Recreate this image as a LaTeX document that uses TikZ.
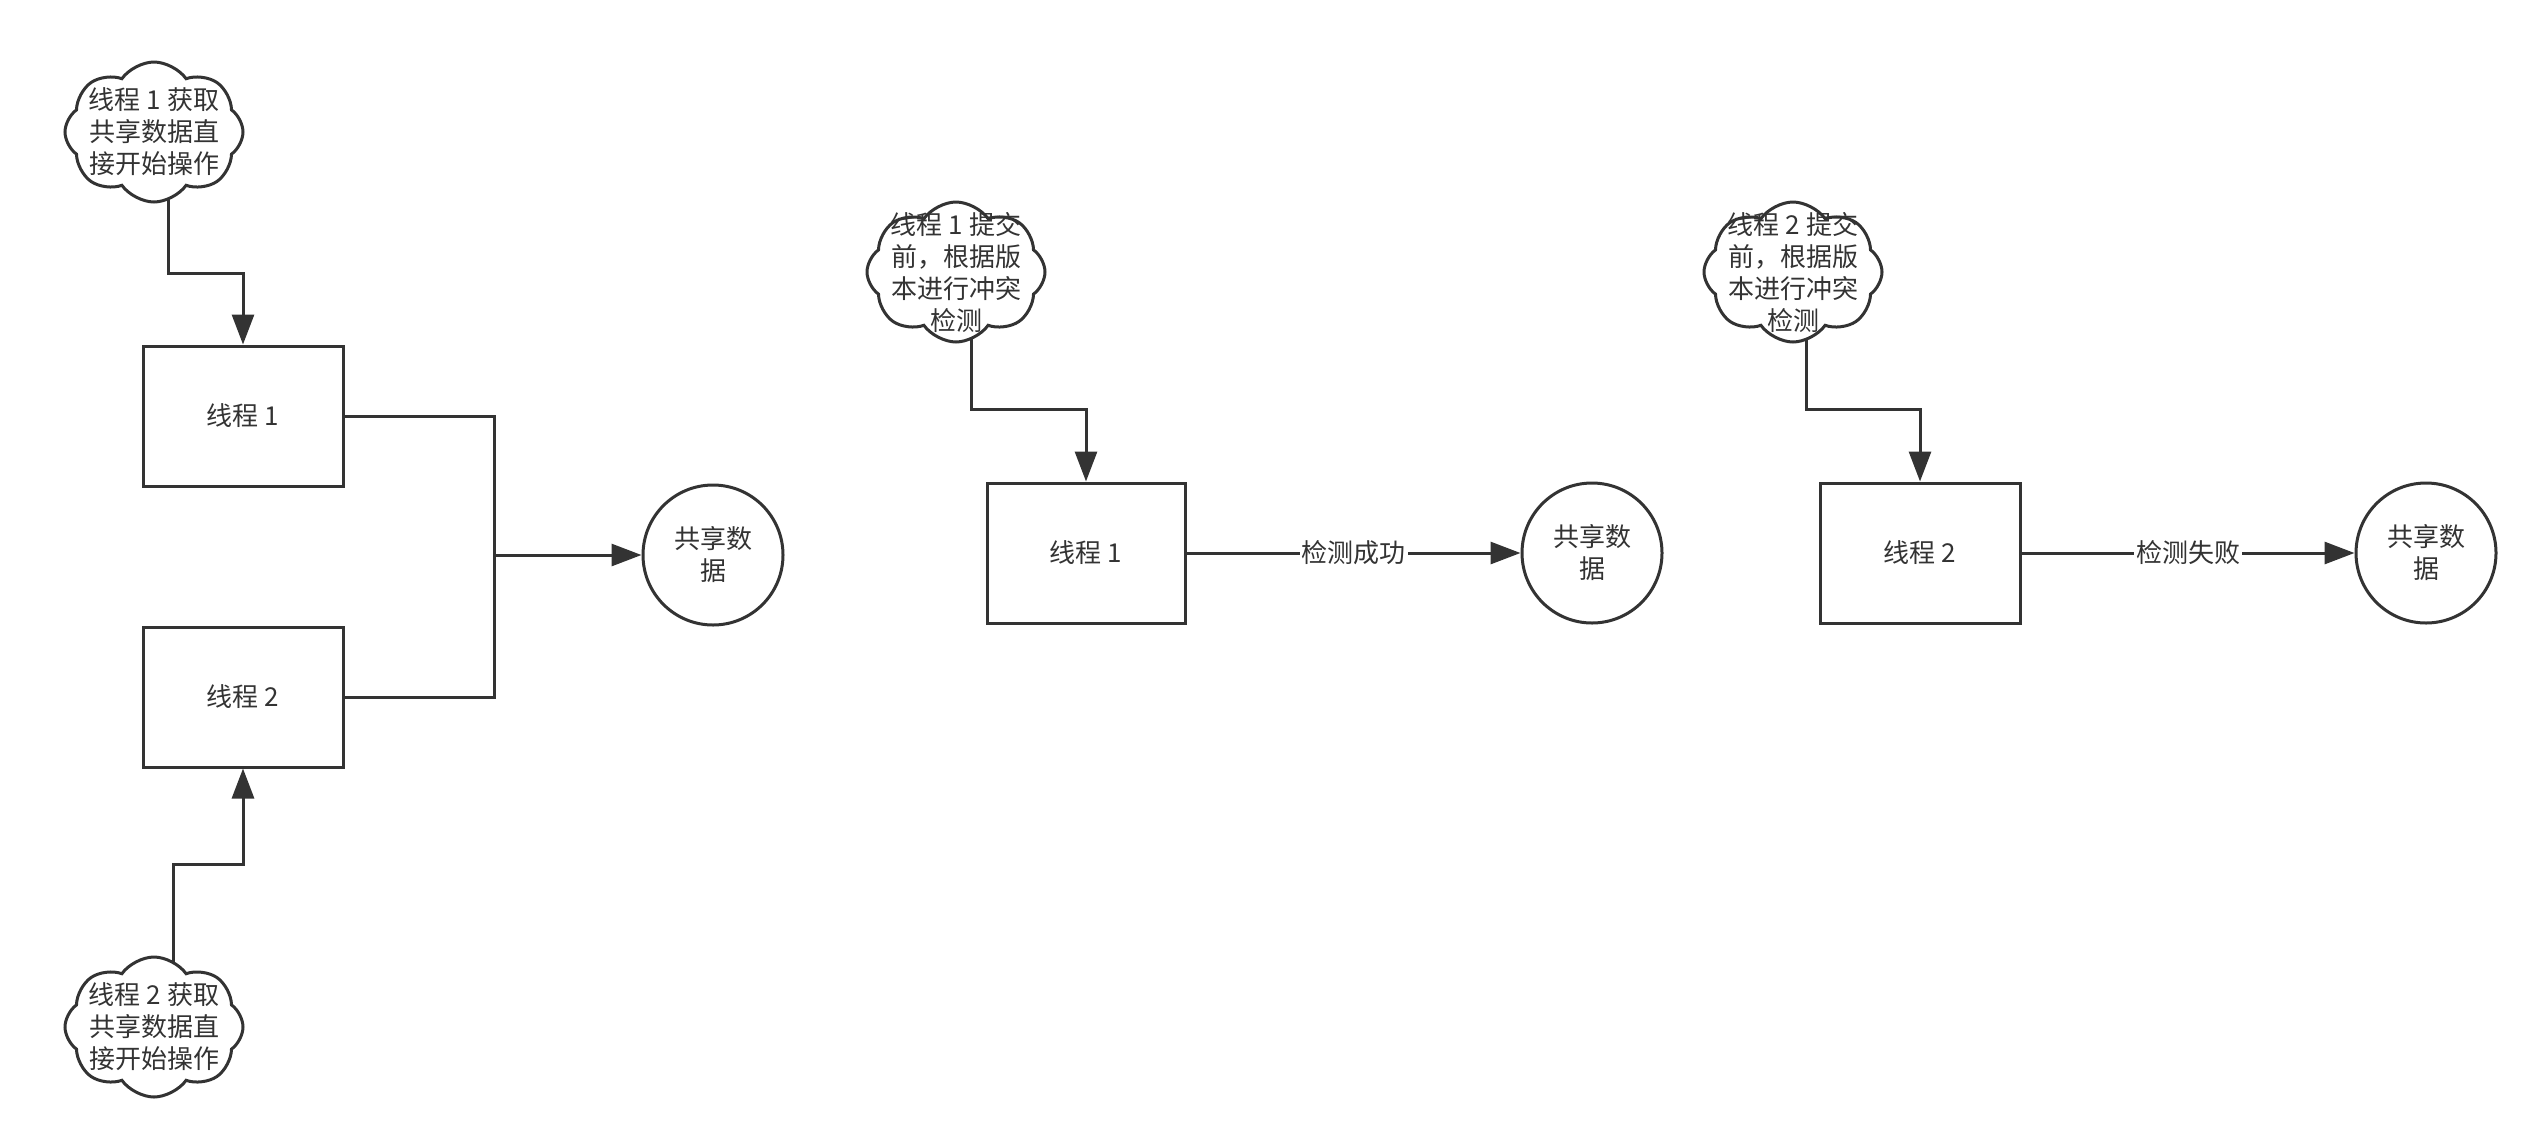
\documentclass[tikz,border=0pt]{standalone}
\usepackage{fontspec}
\setmainfont{Noto Sans CJK SC}
\usetikzlibrary{shapes.symbols,shapes.geometric,arrows.meta,calc,backgrounds}
\definecolor{ln}{HTML}{333333}
\definecolor{tx}{HTML}{333333}
\tikzset{
  boxnode/.style={draw=ln,line width=1.5pt,fill=white,rectangle,minimum width=100pt,minimum height=70pt,inner sep=0pt,text=tx,font=\fontsize{13pt}{16pt}\selectfont},
  datanode/.style={draw=ln,line width=1.5pt,fill=white,circle,minimum size=70pt,inner sep=0pt,text=tx,align=center,font=\fontsize{13pt}{16pt}\selectfont},
  cloudnode/.style={draw=ln,line width=1.5pt,fill=white,cloud,cloud puffs=8,cloud puff arc=110,cloud ignores aspect,minimum width=89pt,minimum height=70pt,inner sep=0pt},
  cloudtext/.style={text=tx,align=center,inner sep=0pt,font=\fontsize{13pt}{16pt}\selectfont},
  conn/.style={draw=ln,line width=1.5pt},
  arr/.style={conn,-{Triangle[length=15pt,width=11pt]}},
  lbl/.style={fill=white,text=tx,inner sep=1pt,font=\fontsize{13pt}{16pt}\selectfont}
}
\begin{document}
\begin{tikzpicture}[x=0.5pt,y=-0.5pt]
\useasboundingbox (0,0) rectangle (2548,1136);
% left group
\node[cloudnode,label={[cloudtext]center:{线程 1 获取\\共享数据直\\接开始操作}}] (c1) at (154,132) {};
\node[boxnode] (t1) at (243,416) {线程 1};
\node[boxnode] (t2) at (243,697) {线程 2};
\node[cloudnode,label={[cloudtext]center:{线程 2 获取\\共享数据直\\接开始操作}}] (c2) at (154,1027) {};
\node[datanode] (d1) at (713,555) {共享数\\据};
% middle group
\node[cloudnode,label={[cloudtext]center:{线程 1 提交\\前，根据版\\本进行冲突\\检测}}] (c3) at (956,272) {};
\node[boxnode,minimum width=99pt] (t3) at (1086,553) {线程 1};
\node[datanode] (d2) at (1592,553) {共享数\\据};
% right group
\node[cloudnode,label={[cloudtext]center:{线程 2 提交\\前，根据版\\本进行冲突\\检测}}] (c4) at (1793,272) {};
\node[boxnode] (t4) at (1920,553) {线程 2};
\node[datanode] (d3) at (2426,553) {共享数\\据};
\begin{pgfonlayer}{background}
\draw[arr] ([xshift=7pt]c1.center) |- ($(t1.north)+(0,-71)$) -- (t1.north);
\draw[arr] ([xshift=9.5pt]c2.center) |- ($(t2.south)+(0,96)$) -- (t2.south);
\draw[conn] (t1.east) -- ++(150,0) |- (t2.east);
\draw[arr] ($(d1.west -| t1.east)+(150,0)$) -- (d1.west);
\draw[arr] ([xshift=7.5pt]c3.center) |- ($(t3.north)+(0,-72)$) -- (t3.north);
\draw[arr] (t3.east) -- node[lbl]{检测成功} (d2.west);
\draw[arr] ([xshift=6.5pt]c4.center) |- ($(t4.north)+(0,-72)$) -- (t4.north);
\draw[arr] (t4.east) -- node[lbl]{检测失败} (d3.west);
\end{pgfonlayer}
\end{tikzpicture}
\end{document}
